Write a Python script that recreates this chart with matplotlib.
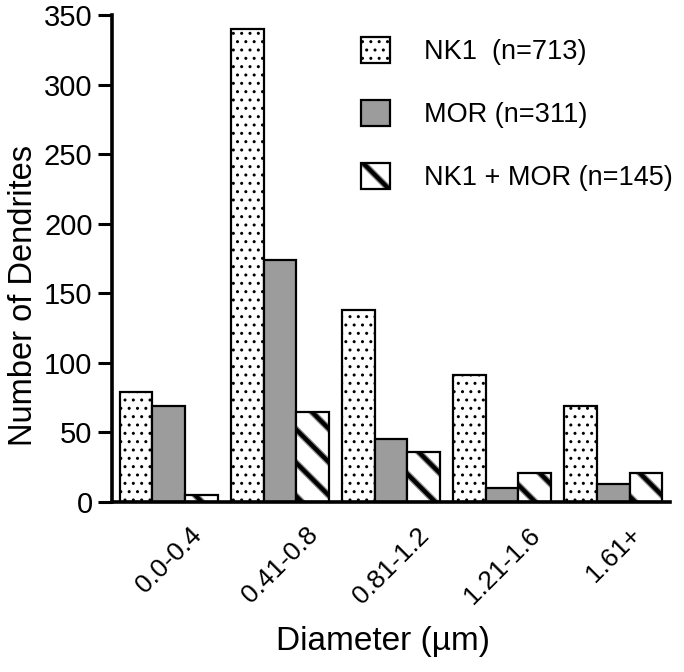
import numpy as np
import matplotlib
matplotlib.use("Agg")
import matplotlib.pyplot as plt
import matplotlib.transforms as mtransforms
from matplotlib.patches import Rectangle
from matplotlib.legend_handler import HandlerTuple

plt.rcParams["font.family"] = ["Liberation Sans", "DejaVu Sans"]

# ----------------------------
# Data
# ----------------------------
categories = ["0.0-0.4", "0.41-0.8", "0.81-1.2", "1.21-1.6", "1.61+"]
nk1 = [79, 340, 138, 91, 69]
mor = [69, 174, 45, 10, 13]
both = [5, 65, 36, 21, 21]
series_labels = ["NK1  (n=713)", "MOR (n=311)", "NK1 + MOR (n=145)"]
yticks = [0, 50, 100, 150, 200, 250, 300, 350]

STRIPE = "\\"
HALO_LW = 4.8   # gray band around each stripe
CORE_LW = 3.0   # black core of each stripe


def set_hlw(patches, lw):
    for p in patches:
        if hasattr(p, "set_hatch_linewidth"):
            p.set_hatch_linewidth(lw)


fig = plt.figure(figsize=(6.84, 6.72), dpi=100)
ax = fig.add_axes([112 / 684, 1 - 502 / 672, (670 - 112) / 684, (502 - 15) / 672])

x = np.arange(len(categories))
w = 0.293

b1 = ax.bar(x - w, nk1, w, facecolor="white", edgecolor="black",
            linewidth=1.6, hatch="..", zorder=2)
b2 = ax.bar(x, mor, w, facecolor="#9c9c9c", edgecolor="black",
            linewidth=1.6, zorder=2)

# striped bars: gray halo + black core + black outline
b3a = ax.bar(x + w, both, w, facecolor="white", edgecolor="#8a8a8a",
             linewidth=0, hatch=STRIPE, zorder=2)
set_hlw(b3a, HALO_LW)
b3b = ax.bar(x + w, both, w, fill=False, edgecolor="black",
             linewidth=0, hatch=STRIPE, zorder=3)
set_hlw(b3b, CORE_LW)
b3c = ax.bar(x + w, both, w, fill=False, edgecolor="black",
             linewidth=1.6, zorder=4)

ax.set_xlim(-0.51, 4.51)
ax.set_ylim(0, 350)
ax.set_yticks(yticks)
ax.set_xticks(x)
ax.set_xticklabels(categories, rotation=45, ha="center", va="top", fontsize=19)
shift = mtransforms.ScaledTranslation(3 / 72, 0, fig.dpi_scale_trans)
for lab in ax.get_xticklabels():
    lab.set_transform(lab.get_transform() + shift)
ax.tick_params(axis="x", length=0, pad=15)
ax.tick_params(axis="y", length=10, width=2.2, labelsize=21, pad=4, direction="out")

for side in ("top", "right"):
    ax.spines[side].set_visible(False)
ax.spines["left"].set_linewidth(2.6)
ax.spines["bottom"].set_linewidth(2.6)

ax.set_ylabel("Number of Dendrites", fontsize=23.5)
ax.yaxis.set_label_coords(-0.131, 0.425)
ax.set_xlabel("Diameter (\u00b5m)", fontsize=24)
ax.xaxis.set_label_coords(0.486, -0.255)

leg = ax.legend([b1[0], b2[0], (b3a[0], b3b[0], b3c[0])], series_labels,
                handler_map={tuple: HandlerTuple(ndivide=1, pad=0)},
                loc="upper left", bbox_to_anchor=(0.447, 0.955), frameon=False,
                fontsize=19.5, handlelength=1.05, handleheight=1.1,
                handletextpad=1.25, labelspacing=1.28, borderpad=0,
                borderaxespad=0)
# legend copies of the striped patches need the same hatch widths
for p in leg.findobj(Rectangle):
    if p.get_hatch() == STRIPE and hasattr(p, "set_hatch_linewidth"):
        p.set_hatch_linewidth(HALO_LW if p.get_fill() else CORE_LW)

fig.savefig("out.png", dpi=100)
